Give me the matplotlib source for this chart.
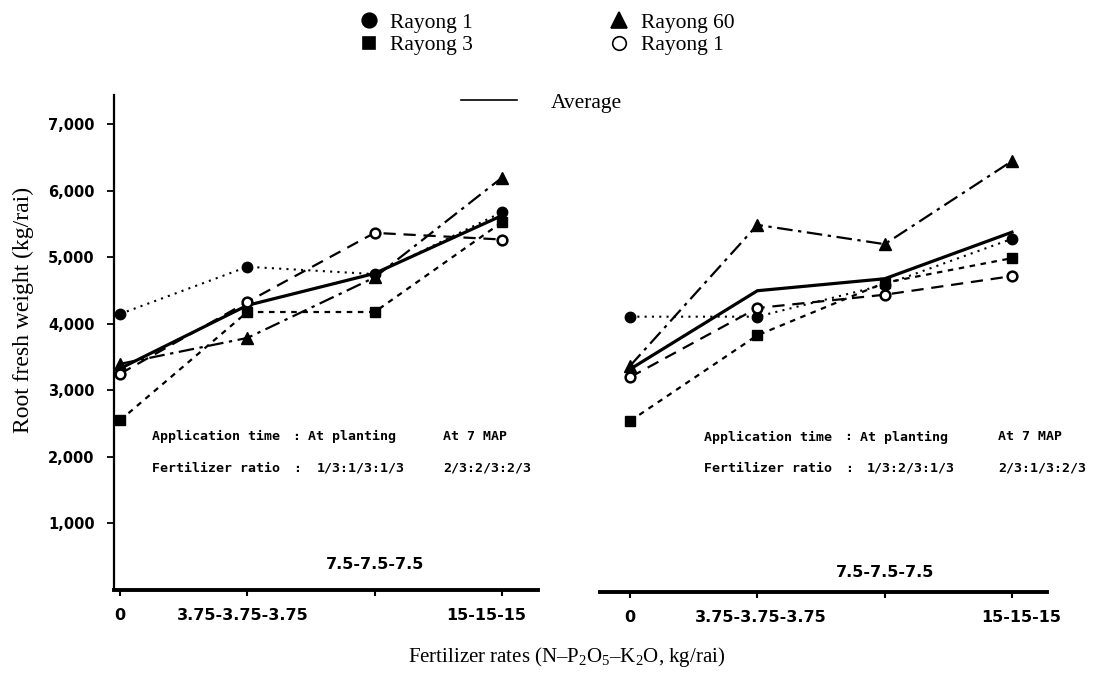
import numpy as np
import matplotlib
matplotlib.use("Agg")
import matplotlib.pyplot as plt
import matplotlib.transforms as mtransforms
from matplotlib.lines import Line2D

plt.rcParams['mathtext.fontset'] = 'custom'
plt.rcParams['mathtext.rm'] = 'Liberation Serif'
plt.rcParams['mathtext.it'] = 'Liberation Serif:italic'

# categories on the x axis (7.5 label is written inside the plot)
rates = ["0", "3.75-3.75-3.75", "7.5-7.5-7.5", "15-15-15"]
yticks = [1000, 2000, 3000, 4000, 5000, 6000, 7000]

# left panel: root fresh weight (kg/rai)
left_r1 = [4150, 4860, 4750, 5680]
left_r3 = [2550, 4180, 4180, 5530]
left_r60 = [3400, 3790, 4700, 6200]
left_r1o = [3250, 4330, 5370, 5270]
left_avg = [3330, 4280, 4760, 5630]

# right panel
right_r1 = [4140, 4140, 4620, 5310]
right_r3 = [2570, 3860, 4650, 5020]
right_r60 = [3400, 5520, 5230, 6480]
right_r1o = [3230, 4270, 4470, 4750]
right_avg = [3350, 4530, 4710, 5410]

W, H = 1097, 673
fig = plt.figure(figsize=(W / 100, H / 100), dpi=100)
fig.patch.set_facecolor('white')


def px(x, y):
    return x / W, 1 - y / H


styles = {
    'r1': dict(marker='o', ms=7.5, mfc='k', mec='k', ls=(0, (1, 2.5)), lw=1.5),
    'r3': dict(marker='s', ms=6.5, mfc='k', mec='k', ls=(0, (2.5, 2.5)), lw=1.6),
    'r60': dict(marker='^', ms=8, mfc='k', mec='k', ls=(0, (7, 2.5, 1.5, 2.5)), lw=1.6),
    'r1o': dict(marker='o', ms=7, mfc='white', mec='k', mew=1.8, ls=(0, (5.5, 3.5)), lw=1.6),
    'avg': dict(marker=None, ls='-', lw=2.3),
}

x = np.arange(len(rates))

ax1 = fig.add_axes([114 / W, 1 - 590 / H, 424 / W, 495 / H])
ax2 = fig.add_axes([600 / W, 1 - 592 / H, 447 / W, 495 / H])

tickfont = dict(fontsize=11.5, fontweight='bold')
panels = [
    (ax1, left_r1, left_r3, left_r60, left_r1o, left_avg, (-0.047, 3.283), 376, [0, -5, 0, -16]),
    (ax2, right_r1, right_r3, right_r60, right_r1o, right_avg, (-0.236, 3.275), 286, [0, 3, 0, 9]),
]
for ax, r1, r3, r60, r1o, avg, xl, mid_y, shifts in panels:
    ax.plot(x, avg, color='k', zorder=5, **styles['avg'])
    ax.plot(x, r1, color='k', zorder=4, **styles['r1'])
    ax.plot(x, r3, color='k', zorder=4, **styles['r3'])
    ax.plot(x, r60, color='k', zorder=4, **styles['r60'])
    ax.plot(x, r1o, color='k', zorder=6, **styles['r1o'])
    ax.set_xlim(*xl)
    ax.set_ylim(0, 7443)
    ax.set_xticks(x)
    ax.set_xticklabels([rates[0], rates[1], "", rates[3]], **tickfont)
    ax.tick_params(axis='x', direction='out', length=4, width=1.5, pad=9)
    for lab, dx in zip(ax.get_xticklabels(), shifts):
        lab.set_transform(lab.get_transform() +
                          mtransforms.ScaledTranslation(dx / 100, 0, fig.dpi_scale_trans))
    ax.spines['top'].set_visible(False)
    ax.spines['right'].set_visible(False)
    ax.spines['bottom'].set_linewidth(2.8)
    ax.text(2, mid_y, rates[2], ha='center', va='center', **tickfont)

ax1.set_yticks(yticks)
ax1.set_yticklabels([f"{v:,}" for v in yticks], fontsize=10.5, fontweight='bold')
ax1.tick_params(axis='y', direction='out', length=5, width=1.3, pad=9)
ax1.spines['left'].set_linewidth(1.6)
ax2.spines['left'].set_visible(False)
ax2.set_yticks([])

# application notes
note = dict(family='DejaVu Sans Mono', fontsize=9.5, fontweight='bold',
            va='center', ha='left')
left_notes = [
    (152, 436, "Application time"), (292, 436, ":"), (308, 436, "At planting"),
    (443, 436, "At 7 MAP"),
    (152, 468, "Fertilizer ratio"), (293, 468, ":"), (317, 468, "1/3:1/3:1/3"),
    (443, 468, "2/3:2/3:2/3"),
]
right_notes = [
    (704, 437, "Application time"), (844, 437, ":"), (860, 437, "At planting"),
    (998, 437, "At 7 MAP"),
    (704, 468, "Fertilizer ratio"), (845, 468, ":"), (867, 468, "1/3:2/3:1/3"),
    (998, 468, "2/3:1/3:2/3"),
]
for tx, ty, s in left_notes + right_notes:
    fig.text(*px(tx, ty), s, **note)

# axis titles
fig.text(*px(23, 310), "Root fresh weight (kg/rai)", rotation=90,
         ha='center', va='center', family='Liberation Serif', fontsize=17)
fig.text(*px(567, 657), r"Fertilizer rates (N–P$_2$O$_5$–K$_2$O, kg/rai)",
         ha='center', va='center', family='Liberation Serif', fontsize=15)

# legend
names = ["Rayong 1", "Rayong 3", "Rayong 60", "Rayong 1"]
keys = ['r1', 'r3', 'r60', 'r1o']
handles = []
for k in keys:
    st = styles[k]
    handles.append(Line2D([], [], ls='none', marker=st['marker'],
                          ms=st['ms'] * 1.4, mfc=st['mfc'], mec='k',
                          mew=1.2, color='k'))
leg = fig.legend(handles, names, ncol=2, frameon=False,
                 loc='upper left', bbox_to_anchor=px(347, 2),
                 prop={'family': 'Liberation Serif', 'size': 15.5},
                 handlelength=1.0, handletextpad=0.5, columnspacing=6.3,
                 labelspacing=0.12, borderpad=0)
avg_h = Line2D([], [], color='k', lw=1.2)
fig.legend([avg_h], ["Average"], frameon=False, loc='center left',
           bbox_to_anchor=px(450, 103),
           prop={'family': 'Liberation Serif', 'size': 15.5},
           handlelength=2.6, handletextpad=1.6, borderpad=0)

fig.savefig("out.png", dpi=100, facecolor='white')
